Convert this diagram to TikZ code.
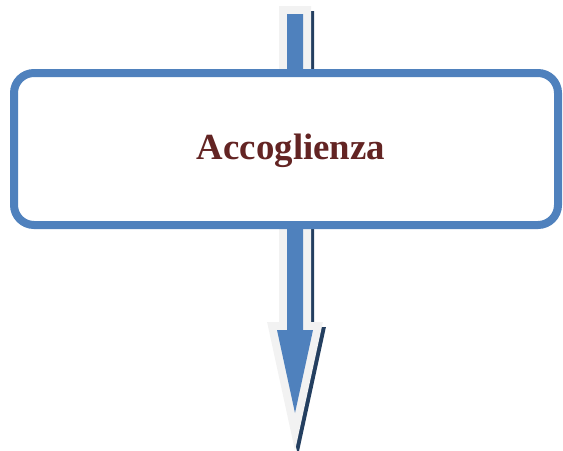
\documentclass[tikz,border=0pt]{standalone}
\usepackage{fontspec}
\setmainfont{Liberation Serif}
\definecolor{boxblue}{HTML}{4F81BD}
\definecolor{glowgray}{HTML}{F2F2F2}
\definecolor{shadownavy}{HTML}{243F60}
\definecolor{labelred}{HTML}{632423}
\tikzset{
  arrowshadow/.style={draw=shadownavy, fill=shadownavy, line width=12pt, line join=miter},
  arrowglow/.style={draw=glowgray, line width=12pt, line join=miter},
  arrowbody/.style={fill=boxblue},
  stagebox/.style={draw=boxblue, fill=white, line width=6pt, rounded corners=15pt,
    minimum width=408pt, minimum height=114pt, inner sep=0pt},
  stagelabel/.style={text=labelred, font=\bfseries\fontsize{27.6pt}{32pt}\selectfont, inner sep=0pt}
}
% block arrow running down through the box, in pixel units
\def\blockarrow{(287,14) -- (303,14) -- (303,330) -- (313,330) -- (295,413) -- (277,330) -- (287,330) -- cycle}
\begin{document}
\begin{tikzpicture}[x=0.75pt, y=-0.75pt]
  \useasboundingbox (0,0) rectangle (563,450);
  \coordinate (entry) at (295,14);
  \coordinate (exit) at (295,413);
  % shadow, glow and body of the arrow
  \begin{scope}[shift={(3,5)}]
    \path[arrowshadow] \blockarrow;
  \end{scope}
  \path[arrowglow] \blockarrow;
  \path[arrowbody] \blockarrow;
  % the box the arrow passes behind
  \node[stagebox] (stage) at (286,149) {};
  \node[stagelabel, anchor=base] (label) at (291,159) {Accoglienza};
\end{tikzpicture}
\end{document}
